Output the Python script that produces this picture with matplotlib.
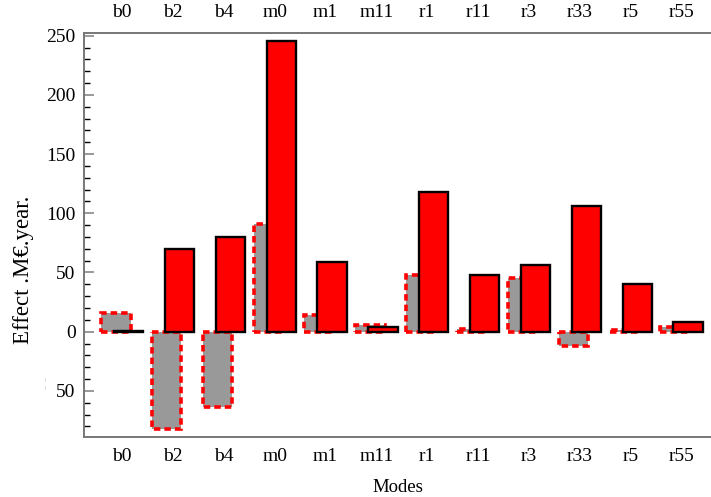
import matplotlib.pyplot as plt
import numpy as np

# categories and effects
modes = ['b0', 'b2', 'b4', 'm0', 'm1', 'm11', 'r1', 'r11', 'r3', 'r33', 'r5', 'r55']
effect_grey = [16, -82.5, -64, 91, 14, 6, 48, 2, 45, -12, 1, 4]
effect_red = [0.6, 70, 80, 245.5, 59, 4, 118, 47.5, 56, 106, 40.5, 8]
ytick_vals = [-50, 0, 50, 100, 150, 200, 250]
ytick_labels = ['50', '0', '50', '100', '150', '200', '250']

plt.rcParams['font.family'] = ['Liberation Serif', 'DejaVu Serif']

fig = plt.figure(figsize=(7.11, 4.97), dpi=100)
ax = fig.add_axes([84/711, 1-436.7/497, 1-84/711, (436.7-32.5)/497])

x = np.arange(len(modes))
ax.bar(x - 0.125, effect_grey, width=0.58, color='#999999', edgecolor='#ff0000',
       linewidth=2.6, linestyle=(0, (1.8, 1.1)), zorder=2)
ax.bar(x + 0.128, effect_red, width=0.575, color='#ff0000', edgecolor='black',
       linewidth=1.7, zorder=3)

ax.set_xlim(-0.75, 11.58)
ax.set_ylim(-88.7, 252.7)

ax.set_xticks(x)
ax.set_xticklabels(modes)
ax.tick_params(axis='x', length=0, labelsize=14, top=True, labeltop=True, pad=8)

ax.set_yticks(ytick_vals)
ax.set_yticklabels(ytick_labels)
ax.set_yticks(np.arange(-80, 251, 10), minor=True)
ax.tick_params(axis='y', which='major', direction='in', length=7, width=1.2,
               color='#888888', labelsize=14, pad=6)
ax.tick_params(axis='y', which='minor', direction='in', length=4, width=1, color='black')

for s in ['left', 'top', 'bottom']:
    ax.spines[s].set_color('#777777')
    ax.spines[s].set_linewidth(1.4)
ax.spines['right'].set_visible(False)

fig.text(397.5/711, 1-487/497, 'Modes', ha='center', va='center', fontsize=13.5)
fig.text(24/711, 1-270/497, 'Effect .M€.year.', ha='center', va='center',
         rotation=90, fontsize=16.5)
fig.text(45/711, 1-384/497, '¦', ha='center', va='center', fontsize=9, color='#cccccc')

fig.savefig('out.png', dpi=100)
